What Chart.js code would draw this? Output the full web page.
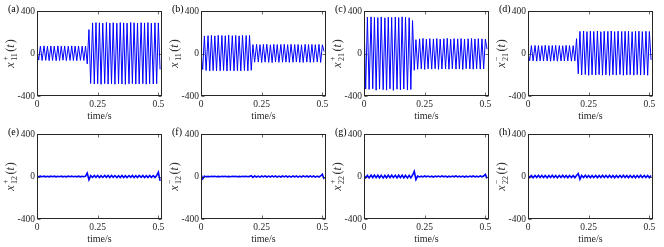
<!DOCTYPE html>
<html>
<head>
<meta charset="utf-8">
<script src="https://cdn.jsdelivr.net/npm/chart.js@4.4.1/dist/chart.umd.min.js"></script>
<style>
    html, body { margin: 0; padding: 0; background: #fff; }
    #wrap { position: relative; width: 664px; height: 247px; overflow: hidden; }
    .panel { position: absolute; }
</style>
</head>
<body>
<div id="wrap"></div>
<script>
// Sample times (s), one point per half-cycle of the oscillation
const times = [0.000, 0.007, 0.014, 0.021, 0.029, 0.036, 0.043, 0.050, 0.057, 0.064,
    0.071, 0.079, 0.086, 0.093, 0.100, 0.107, 0.114, 0.121, 0.129, 0.136,
    0.143, 0.150, 0.157, 0.164, 0.171, 0.179, 0.186, 0.193, 0.200, 0.207,
    0.214, 0.221, 0.229, 0.236, 0.243, 0.250, 0.257, 0.264, 0.271, 0.279,
    0.286, 0.293, 0.300, 0.307, 0.314, 0.321, 0.329, 0.336, 0.343, 0.350,
    0.357, 0.364, 0.371, 0.379, 0.386, 0.393, 0.400, 0.407, 0.414, 0.421,
    0.429, 0.436, 0.443, 0.450, 0.457, 0.464, 0.471, 0.479, 0.486, 0.493,
    0.500, 0.507];

// Series values
const xPlus11 = [20, -62, 70, -66, 72, -64, 68, -67, 71, -65, 69, -68, 72, -66, 70, -63, 71, -67, 69, -65,
    72, -66, 70, -68, 71, -64, 69, -66, 70, -98,
    225, -282, 288, -286, 291, -284, 289, -290, 286, -283, 292, -288, 287, -285, 290, -289, 285, -284, 291, -287,
    288, -290, 286, -285, 292, -283, 289, -288, 287, -286, 290, -284, 288, -289, 291, -285, 286, -287, 289, -284,
    288, -150];
const xMinus11 = [0, -150, 165, -160, 168, -163, 170, -161, 166, -164, 171, -162, 169, -160, 167, -165, 172, -161, 168, -163,
    170, -162, 166, -164, 171, -160, 169, -163, 170, -158,
    84, -82, 86, -80, 83, -84, 85, -81, 87, -83, 82, -85, 86, -80, 84, -83, 85, -82, 87, -81,
    83, -84, 86, -82, 84, -80, 85, -83, 82, -84, 86, -81, 84, -83, 85, -82, 83, -80, 86, -84,
    82, 20];
const xPlus21 = [300, -335, 342, -338, 345, -332, 340, -346, 338, -335, 344, -340, 336, -345, 341, -333, 339, -347, 343, -336,
    338, -342, 345, -334, 340, -344, 337, -339, 310, -158,
    130, -148, 138, -145, 142, -150, 135, -144, 140, -147, 137, -143, 141, -149, 136, -146, 139, -145, 143, -148,
    134, -144, 140, -147, 138, -145, 141, -150, 136, -143, 139, -146, 142, -148, 137, -144, 140, -147, 138, -145,
    135, 40];
const xMinus21 = [0, -68, 74, -70, 76, -72, 75, -69, 73, -71, 77, -70, 74, -73, 75, -68, 76, -72, 74, -70,
    73, -71, 77, -69, 75, -72, 74, -70, 140, -190,
    208, -202, 212, -198, 206, -205, 210, -200, 207, -203, 211, -199, 205, -204, 209, -201, 208, -206, 212, -200,
    206, -203, 210, -198, 207, -205, 209, -202, 211, -200, 205, -204, 208, -199, 210, -203, 206, -201, 209, -205,
    207, -60];
const xPlus12 = [2, -3, 3, -2, 3, -3, 2, -3, 3, -2, 3, -3, 2, -2, 3, -3, 2, -3, 3, -2,
    3, -2, 2, -3, 3, -3, 2, -2, 3, 32,
    -30, 8, -9, 10, -8, 9, -10, 8, -9, 10, -8, 9, -9, 10, -8, 9, -10, 8, -9, 10,
    -9, 8, -10, 9, -8, 10, -9, 8, -9, 10, -8, 9, -10, 8, -9, 10, -8, 9, -10, 8,
    40, -42];
const xMinus12 = [20, -22, 2, -2, 1, -2, 2, -1, 2, -2, 1, -2, 2, -1, 2, -2, 1, -2, 2, -1,
    2, -2, 1, -2, 2, -1, 2, -2, 1, 8,
    -8, 5, -5, 4, -6, 5, -4, 6, -5, 4, -5, 6, -4, 5, -6, 4, -5, 5, -4, 6,
    -5, 4, -6, 5, -4, 5, -6, 4, -5, 6, -4, 5, -5, 6, -4, 5, -6, 4, -5, 5,
    22, -24];
const xPlus22 = [10, -12, 11, -13, 12, -10, 13, -11, 12, -12, 11, -13, 10, -12, 13, -11, 12, -10, 11, -13,
    12, -11, 13, -12, 10, -13, 11, -12, 12, 48,
    -28, 4, -4, 3, -4, 5, -3, 4, -4, 3, -5, 4, -3, 4, -4, 5, -3, 4, -5, 3,
    -4, 4, -3, 5, -4, 3, -4, 4, -5, 3, -4, 4, -3, 5, -4, 3, -4, 5, -3, 4,
    20, -18];
const xMinus22 = [8, -10, 9, -11, 10, -9, 11, -10, 9, -10, 10, -11, 9, -10, 11, -9, 10, -11, 9, -10,
    11, -10, 9, -11, 10, -9, 10, -11, 10, 28,
    -26, 10, -9, 11, -10, 9, -11, 10, -9, 10, -11, 9, -10, 11, -9, 10, -10, 11, -9, 10,
    -11, 9, -10, 10, -9, 11, -10, 9, -11, 10, -9, 10, -11, 9, -10, 11, -9, 10, -10, 9,
    -11, 10];

const panelSeries = [xPlus11, xMinus11, xPlus21, xMinus21, xPlus12, xMinus12, xPlus22, xMinus22];
const panelLabels = ['(a)', '(b)', '(c)', '(d)', '(e)', '(f)', '(g)', '(h)'];
const signs = ['+', '\u2212', '+', '\u2212', '+', '\u2212', '+', '\u2212'];
const subscripts = ['11', '11', '21', '21', '12', '12', '22', '22'];

// Axis ticks
const xTicks = [0, 0.25, 0.5];
const xTickLabels = ['0', '0.25', '0.5'];
const yTicks = [-400, 0, 400];
const yTickLabels = ['-400', '0', '400'];
const xTitle = 'time/s';

// Layout
const colLefts = [0, 164, 327, 491];
const rowTops = [0, 123];
const panelWidth = 164;
const panelHeight = 123;
const inkColor = '#262626';
const serif = "'Liberation Serif', 'DejaVu Serif', serif";

/**
 * Draws the MATLAB-style box, inward ticks, panel letter and y label.
 */
const decorPlugin = {
    id: 'decor',
    afterDraw(chart, args, opts) {
        const ctx = chart.ctx;
        const area = chart.chartArea;
        const xs = chart.scales.x;
        const ys = chart.scales.y;
        const left = Math.round(area.left) + 0.5;
        const right = Math.round(area.right) - 0.5;
        const top = Math.round(area.top) + 0.5;
        const bottom = Math.round(area.bottom) - 0.5;

        ctx.save();
        ctx.strokeStyle = inkColor;
        ctx.lineWidth = 1;
        ctx.strokeRect(left, top, right - left, bottom - top);

        // inward tick marks on all four sides
        ctx.lineWidth = 0.7;
        ctx.beginPath();
        xTicks.forEach(v => {
            const px = Math.round(xs.getPixelForValue(v)) + 0.5;
            ctx.moveTo(px, bottom); ctx.lineTo(px, bottom - 3);
            ctx.moveTo(px, top); ctx.lineTo(px, top + 3);
        });
        yTicks.forEach(v => {
            const py = Math.round(ys.getPixelForValue(v)) + 0.5;
            ctx.moveTo(left, py); ctx.lineTo(left + 3, py);
            ctx.moveTo(right, py); ctx.lineTo(right - 3, py);
        });
        ctx.stroke();

        // panel letter
        ctx.fillStyle = '#000';
        ctx.font = `10px ${serif}`;
        ctx.textAlign = 'left';
        ctx.textBaseline = 'middle';
        ctx.fillText(opts.letter, 8, area.top - 1.5);

        // rotated y label: x^{sign}_{sub}(t)
        const cy = (area.top + area.bottom) / 2;
        const mainFont = `italic 12px ${serif}`;
        const smallFont = `8px ${serif}`;
        ctx.font = mainFont;
        const wx = ctx.measureText('x').width;
        const wOpen = ctx.measureText('(').width;
        const wt = ctx.measureText('t').width;
        const wClose = ctx.measureText(')').width;
        ctx.font = smallFont;
        const wSub = Math.max(ctx.measureText(opts.sub).width, ctx.measureText(opts.sign).width);
        const gap = 1.5;
        const total = wx + gap + wSub + gap + wOpen + wt + wClose + 1;

        ctx.translate(14, cy);
        ctx.rotate(-Math.PI / 2);
        ctx.fillStyle = '#333';
        ctx.textBaseline = 'alphabetic';
        let pos = -total / 2;
        ctx.font = mainFont;
        ctx.fillText('x', pos, 0);
        pos += wx + gap;
        ctx.font = smallFont;
        ctx.fillText(opts.sign, pos, -6);
        ctx.fillText(opts.sub, pos, 3);
        pos += wSub + gap;
        ctx.font = `12px ${serif}`;
        ctx.fillText('(', pos, 0);
        pos += wOpen;
        ctx.font = mainFont;
        ctx.fillText('t', pos, 0);
        pos += wt + 1;
        ctx.font = `12px ${serif}`;
        ctx.fillText(')', pos, 0);
        ctx.restore();
    }
};

/**
 * Builds one subplot.
 * @param {number} index - Panel index 0..7.
 */
function createPanel(index) {
    const row = Math.floor(index / 4);
    const col = index % 4;
    const holder = document.createElement('div');
    holder.className = 'panel';
    holder.style.left = colLefts[col] + 'px';
    holder.style.top = rowTops[row] + 'px';
    const canvas = document.createElement('canvas');
    canvas.width = panelWidth;
    canvas.height = panelHeight;
    holder.appendChild(canvas);
    document.getElementById('wrap').appendChild(holder);

    const points = times.map((t, i) => ({ x: t, y: panelSeries[index][i] }));

    return new Chart(canvas.getContext('2d'), {
        type: 'line',
        data: {
            datasets: [{
                data: points,
                borderColor: 'rgb(0, 0, 255)',
                borderWidth: row === 0 ? 1 : 1.6,
                pointRadius: 0,
                tension: 0,
                fill: false
            }]
        },
        options: {
            responsive: false,
            animation: false,
            layout: { padding: { top: 11, right: 2, left: 0, bottom: 0 } },
            scales: {
                x: {
                    type: 'linear',
                    min: 0,
                    max: 0.515,
                    grid: { display: false, drawTicks: false },
                    border: { display: false },
                    afterBuildTicks: scale => { scale.ticks = xTicks.map(v => ({ value: v })); },
                    afterFit: scale => { scale.height = 27; scale.paddingLeft = 0; scale.paddingRight = 0; },
                    ticks: {
                        autoSkip: false,
                        maxRotation: 0,
                        padding: 3,
                        color: inkColor,
                        font: { family: serif, size: 9.5 },
                        callback: (value, i) => xTickLabels[i]
                    },
                    title: {
                        display: true,
                        text: xTitle,
                        color: inkColor,
                        font: { family: serif, size: 10 },
                        padding: { top: 0, bottom: 1 }
                    }
                },
                y: {
                    min: -400,
                    max: 400,
                    grid: { display: false, drawTicks: false },
                    border: { display: false },
                    afterBuildTicks: scale => { scale.ticks = yTicks.map(v => ({ value: v })); },
                    afterFit: scale => { scale.width = 37; scale.paddingTop = 0; scale.paddingBottom = 0; },
                    ticks: {
                        autoSkip: false,
                        padding: 2,
                        color: inkColor,
                        font: { family: serif, size: 9.5 },
                        callback: (value, i) => yTickLabels[i]
                    }
                }
            },
            plugins: {
                legend: { display: false },
                tooltip: { enabled: false },
                decor: { letter: panelLabels[index], sign: signs[index], sub: subscripts[index] }
            }
        },
        plugins: [decorPlugin]
    });
}

panelSeries.forEach((_, i) => createPanel(i));
</script>
</body>
</html>
